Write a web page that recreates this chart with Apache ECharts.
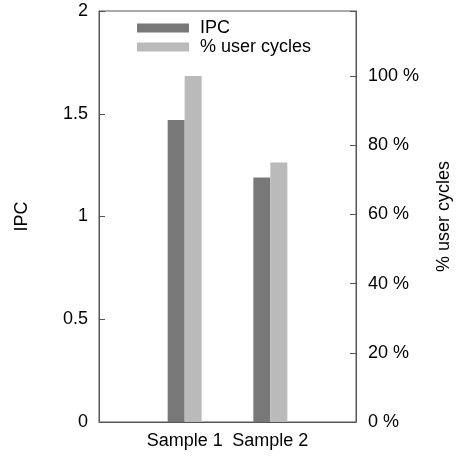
<!DOCTYPE html>
<html>
<head>
<meta charset="utf-8">
<script src="https://cdn.jsdelivr.net/npm/echarts@6/dist/echarts.min.js"></script>
<style>
  html, body { margin: 0; padding: 0; background: #fff; overflow: hidden; }
  #chart { width: 459px; height: 456px; }
</style>
</head>
<body>
<div id="chart"></div>
<script>
// Categories (empty slots pad the axis on both sides)
const categories = ['', 'Sample 1', 'Sample 2', ''];
// Instructions per cycle
const ipcValues = [null, 1.47, 1.19, null];
// Share of cycles spent in user mode, percent
const userCycleValues = [null, 100, 75, null];
// Axis tick settings
const ipcTicks = { min: 0, max: 2, interval: 0.5 };
const pctTicks = { min: 0, max: 118.75, interval: 20 };

const FONT = '"Liberation Sans", Arial, Helvetica, sans-serif';
const FS = 18;
const AXIS_COLOR = '#555555';

const chart = echarts.init(document.getElementById('chart'), null, { renderer: 'canvas', width: 459, height: 456 });

chart.setOption({
  animation: false,
  textStyle: { fontFamily: FONT, color: '#000' },
  grid: {
    left: 99, right: 103, top: 11, bottom: 34,
    containLabel: false,
    outerBoundsMode: 'none',
    show: true, borderColor: AXIS_COLOR, borderWidth: 1
  },
  legend: {
    orient: 'vertical',
    left: 137, top: 19,
    padding: 0,
    itemWidth: 52, itemHeight: 9, itemGap: 1,
    icon: 'rect',
    textStyle: { fontFamily: FONT, fontSize: FS, color: '#000', padding: [0, 0, 0, 6] },
    data: ['IPC', '% user cycles']
  },
  xAxis: {
    type: 'category',
    data: categories,
    boundaryGap: false,
    axisLine: { show: true, lineStyle: { color: AXIS_COLOR } },
    axisTick: { show: false },
    axisLabel: { fontFamily: FONT, fontSize: FS, color: '#000', margin: 10, interval: 0 },
    splitLine: { show: false }
  },
  yAxis: [
    {
      type: 'value',
      min: ipcTicks.min, max: ipcTicks.max, interval: ipcTicks.interval,
      name: 'IPC',
      nameLocation: 'middle',
      nameGap: 68,
      nameRotate: 90,
      nameTextStyle: { fontFamily: FONT, fontSize: FS, color: '#000' },
      axisLine: { show: true, lineStyle: { color: AXIS_COLOR } },
      axisTick: { show: true, inside: true, length: 6, lineStyle: { color: AXIS_COLOR } },
      axisLabel: { fontFamily: FONT, fontSize: FS, color: '#000', margin: 11 },
      splitLine: { show: false }
    },
    {
      type: 'value',
      position: 'right',
      min: pctTicks.min, max: pctTicks.max, interval: pctTicks.interval,
      name: '% user cycles',
      nameLocation: 'middle',
      nameGap: 79,
      nameRotate: 90,
      nameTextStyle: { fontFamily: FONT, fontSize: FS, color: '#000' },
      axisLine: { show: true, lineStyle: { color: AXIS_COLOR } },
      axisTick: { show: true, inside: true, length: 6, lineStyle: { color: AXIS_COLOR } },
      axisLabel: {
        fontFamily: FONT, fontSize: FS, color: '#000', margin: 12,
        formatter: v => (Math.abs(v % 20) < 1e-9 ? v + ' %' : '')
      },
      splitLine: { show: false }
    }
  ],
  series: [
    {
      name: 'IPC',
      type: 'bar',
      yAxisIndex: 0,
      data: ipcValues,
      barWidth: 17,
      barGap: '0%',
      itemStyle: { color: '#787878' }
    },
    {
      name: '% user cycles',
      type: 'bar',
      yAxisIndex: 1,
      data: userCycleValues,
      barWidth: 17,
      barGap: '0%',
      itemStyle: { color: '#bababa' }
    }
  ]
});
</script>
</body>
</html>
